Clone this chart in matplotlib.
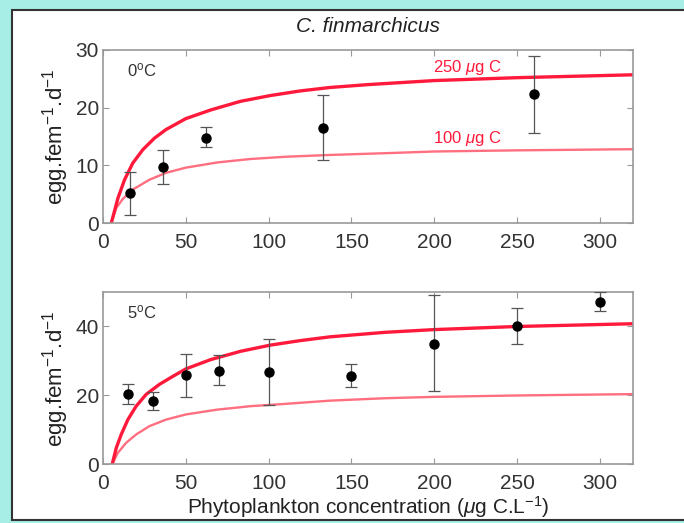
import matplotlib.pyplot as plt
from matplotlib.patches import Rectangle

# observed egg production, 0 degC
obs0_x = [16, 36, 62, 133, 260]
obs0_y = [5.2, 9.7, 14.8, 16.5, 22.3]
obs0_lo = [1.4, 6.8, 13.1, 10.9, 15.6]
obs0_hi = [8.9, 12.6, 16.6, 22.2, 29.0]

# observed egg production, 5 degC
obs5_x = [15, 30, 50, 70, 100, 150, 200, 250, 300]
obs5_y = [20.3, 18.3, 25.8, 27.2, 26.8, 25.7, 35.0, 40.1, 47.1]
obs5_lo = [17.6, 15.9, 19.5, 22.9, 17.2, 22.5, 21.2, 34.8, 44.4]
obs5_hi = [23.2, 21.0, 31.9, 31.7, 36.5, 29.2, 49.2, 45.4, 49.9]

# model curves (250 and 100 ug C)
c250_0_x = [5, 9, 13, 18, 24, 31, 38, 50, 65, 83, 101, 119, 137, 160, 200, 250, 320]
c250_0_y = [0, 4.3, 7.5, 10.4, 12.7, 14.7, 16.2, 18.1, 19.6, 21.1, 22.1, 22.9, 23.5, 24.0, 24.7, 25.2, 25.7]
c100_0_x = [5, 8, 12, 18, 28, 38, 50, 69, 89, 111, 137, 170, 200, 250, 320]
c100_0_y = [0, 2.6, 4.2, 5.8, 7.5, 8.7, 9.6, 10.5, 11.1, 11.5, 11.8, 12.1, 12.4, 12.6, 12.8]

c250_5_x = [5.5, 8, 11, 15, 20, 26, 34, 42, 50, 65, 83, 101, 119, 137, 170, 200, 250, 320]
c250_5_y = [0, 4.8, 8.7, 13.0, 16.9, 20.3, 23.2, 25.5, 27.7, 30.4, 32.8, 34.6, 35.9, 37.0, 38.3, 39.1, 40.0, 40.8]
c100_5_x = [5.5, 9, 14, 20, 28, 38, 50, 69, 89, 111, 137, 170, 200, 250, 320]
c100_5_y = [0, 3.4, 6.3, 8.7, 11.1, 13.0, 14.5, 15.9, 16.9, 17.6, 18.5, 19.2, 19.6, 20.0, 20.4]

xticks = [0, 50, 100, 150, 200, 250, 300]

plt.rcParams['font.family'] = ['Liberation Sans', 'DejaVu Sans']
plt.rcParams['mathtext.fontset'] = 'custom'
plt.rcParams['mathtext.rm'] = 'Liberation Sans'
plt.rcParams['mathtext.it'] = 'Liberation Sans:italic'

fig = plt.figure(figsize=(6.84, 5.23), dpi=100)
fig.patch.set_facecolor('#a6eee6')
fig.patches.append(Rectangle((12 / 684, 3 / 523), 1, 1 - 13 / 523, transform=fig.transFigure,
                             facecolor='white', edgecolor='#333333', linewidth=1.5, zorder=-10))

ax1 = fig.add_axes([0.1506, 0.5736, 0.7749, 0.3308])
ax2 = fig.add_axes([0.1506, 0.1119, 0.7749, 0.3298])

thick = '#ff1a3c'
thin = '#ff6f80'

panels = [
    (ax1, obs0_x, obs0_y, obs0_lo, obs0_hi, c250_0_x, c250_0_y, c100_0_x, c100_0_y, 30, [0, 10, 20, 30], '0$^{\\rm o}$C'),
    (ax2, obs5_x, obs5_y, obs5_lo, obs5_hi, c250_5_x, c250_5_y, c100_5_x, c100_5_y, 50, [0, 20, 40], '5$^{\\rm o}$C'),
]

for ax, ox, oy, lo, hi, tx, ty, nx, ny, ymax, yt, lab in panels:
    ax.plot(nx, ny, color=thin, lw=1.7)
    ax.plot(tx, ty, color=thick, lw=2.4)
    err = [[y - l for y, l in zip(oy, lo)], [h - y for y, h in zip(oy, hi)]]
    ax.errorbar(ox, oy, yerr=err, fmt='o', color='black', ms=6.5, ecolor='#555555',
                elinewidth=0.9, capsize=4, capthick=0.9, zorder=5)
    ax.set_xlim(0, 320)
    ax.set_ylim(0, ymax)
    ax.set_xticks(xticks)
    ax.set_yticks(yt)
    ax.tick_params(direction='in', length=4, width=0.8, color='#999999', labelsize=15,
                   labelcolor='#333333', top=True, right=True)
    ax.tick_params(axis='x', pad=7)
    ax.tick_params(axis='y', pad=3)
    for s in ax.spines.values():
        s.set_color('#999999')
        s.set_linewidth(1.2)
    ax.set_ylabel('egg.fem$^{-1}$.d$^{-1}$', fontsize=16, color='#222222', labelpad=3)
    ax.text(0.045, 0.88, lab, transform=ax.transAxes, fontsize=12, color='#333333', va='center')

ax1.text(220, 26.9, '250 $\\mu$g C', color=thick, fontsize=12, ha='center', va='center')
ax1.text(220, 14.7, '100 $\\mu$g C', color=thick, fontsize=12, ha='center', va='center')
ax1.set_title('C. finmarchicus', style='italic', fontsize=15, color='#222222', pad=13)
ax2.set_xlabel('Phytoplankton concentration ($\\mu$g C.L$^{-1}$)', fontsize=15, color='#222222', labelpad=1)

plt.savefig('out.png', dpi=100, facecolor=fig.get_facecolor())
